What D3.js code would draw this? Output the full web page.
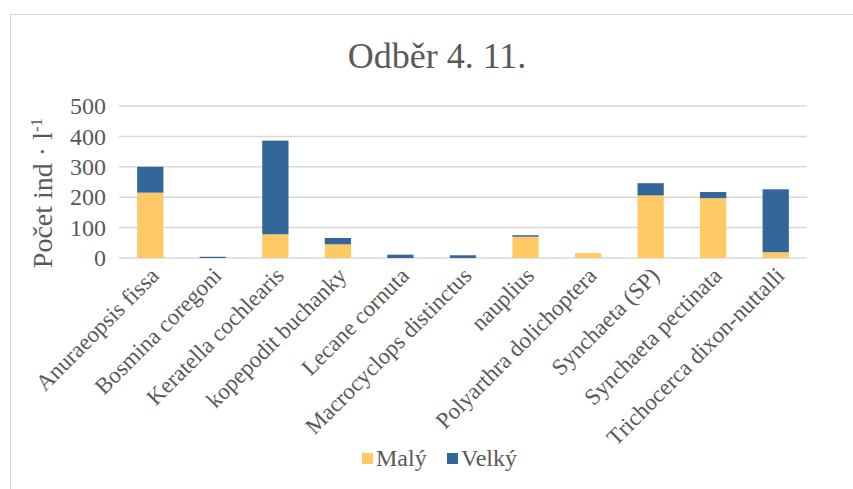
<!DOCTYPE html>
<meta charset="utf-8">
<style>
body { margin: 0; background: #fff; }
.grid line { stroke: #d9d9d9; stroke-width: 1.5px; }
</style>
<svg width="853" height="489"></svg>
<script src="https://d3js.org/d3.v7.min.js"></script>
<script>

var categories = ["Anuraeopsis fissa", "Bosmina coregoni", "Keratella cochlearis",
  "kopepodit buchanky", "Lecane cornuta", "Macrocyclops distinctus", "nauplius",
  "Polyarthra dolichoptera", "Synchaeta (SP)", "Synchaeta pectinata",
  "Trichocerca dixon-nuttalli"];
var maly  = [215, 0, 78, 45, 0, 0, 70, 16, 206, 197, 19];
var velky = [85, 4, 308, 21, 11, 9, 5, 0, 40, 20, 207];
var yTicks = [0, 100, 200, 300, 400, 500];
var seriesNames = ["Malý", "Velký"];
var colors = ["#ffc965", "#336699"];

var FONT = "Liberation Serif";
var TEXT_COLOR = "#595959";

var svg = d3.select("svg");

// chart frame
svg.append("rect")
  .attr("x", 10.5).attr("y", 14.5)
  .attr("width", 870).attr("height", 500)
  .attr("fill", "#fff").attr("stroke", "#d9d9d9");

var plotLeft = 119, plotRight = 807, plotTop = 106, plotBottom = 258;

var x = d3.scaleBand().domain(categories).range([plotLeft, plotRight]).paddingInner(0.58).paddingOuter(0.29);
var y = d3.scaleLinear().domain([0, 500]).range([plotBottom, plotTop]);

// title
svg.append("text")
  .attr("x", 437).attr("y", 68)
  .attr("text-anchor", "middle")
  .style("font-family", FONT)
  .style("fill", TEXT_COLOR)
  .style("font-size", "36px")
  .text("Odběr 4. 11.");

// gridlines
svg.append("g").attr("class", "grid")
  .selectAll("line").data(yTicks).enter().append("line")
  .attr("x1", plotLeft).attr("x2", plotRight)
  .attr("y1", function(d) { return y(d); })
  .attr("y2", function(d) { return y(d); });

// y axis labels
var yAxis = d3.axisLeft(y).tickValues(yTicks).tickSize(0).tickPadding(13);
var gy = svg.append("g").attr("transform", "translate(" + plotLeft + ",0)").call(yAxis);
gy.select(".domain").remove();
gy.selectAll("text")
  .style("font-size", "24px")
  .style("font-family", FONT)
  .style("fill", TEXT_COLOR);

// y title
var yt = svg.append("text")
  .attr("transform", "translate(52,193) rotate(-90)")
  .attr("text-anchor", "middle")
  .style("font-family", FONT)
  .style("fill", TEXT_COLOR)
  .style("font-size", "28px");
yt.append("tspan").text("Počet  ind · l");
yt.append("tspan").attr("dy", -10).style("font-size", "17px").text("-1");

// stacked bars
var rows = categories.map(function(c, i) { return { cat: c, "Malý": maly[i], "Velký": velky[i] }; });
var stack = d3.stack().keys(seriesNames)(rows);

svg.append("g").selectAll("g").data(stack).enter().append("g")
  .attr("fill", function(d, i) { return colors[i]; })
  .selectAll("rect").data(function(d) { return d; }).enter().append("rect")
  .attr("x", function(d) { return x(d.data.cat); })
  .attr("width", x.bandwidth())
  .attr("y", function(d) { return y(d[1]); })
  .attr("height", function(d) { return y(d[0]) - y(d[1]); });

// x labels
svg.append("g").selectAll("text").data(categories).enter().append("text")
  .attr("text-anchor", "end")
  .style("font-family", FONT)
  .style("fill", TEXT_COLOR)
  .style("font-size", "23px")
  .attr("transform", function(d) {
    return "translate(" + (x(d) + x.bandwidth() / 2 + 10) + ",277) rotate(-45)";
  })
  .text(function(d) { return d; });

// legend
var legend = svg.append("g").selectAll("g").data(seriesNames).enter().append("g")
  .attr("transform", function(d, i) { return "translate(" + (362 + i * 85) + ",0)"; });
legend.append("rect")
  .attr("x", 0).attr("y", 453).attr("width", 11).attr("height", 11)
  .attr("fill", function(d, i) { return colors[i]; });
legend.append("text")
  .attr("x", 14).attr("y", 466)
  .style("font-family", FONT)
  .style("fill", TEXT_COLOR)
  .style("font-size", "24px")
  .text(function(d) { return d; });

</script>
